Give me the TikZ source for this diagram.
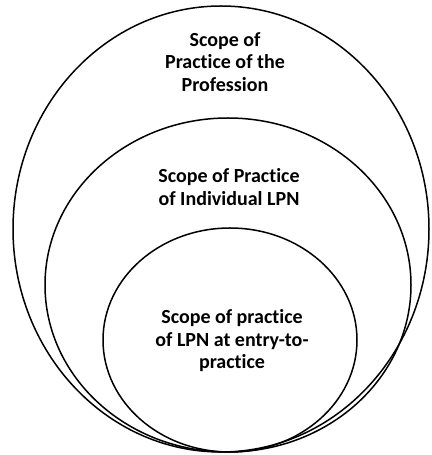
\documentclass[tikz,border=0pt]{standalone}
\usepackage{fontspec}
\setmainfont{Carlito}[Ligatures={NoCommon}]
\tikzset{
  ring/.style={draw=black, line width=1.5pt},
  lbl/.style={align=center, font=\fontsize{20}{22.5}\selectfont\bfseries, text=black, inner sep=0pt}
}
\begin{document}
\begin{tikzpicture}[x=1pt,y=1pt]
\useasboundingbox (0,0) rectangle (431,455);
\draw[ring] (221,226) ellipse [x radius=208, y radius=223];
\draw[ring] (228,170) ellipse [x radius=183, y radius=167];
\draw[ring] (230,115) ellipse [x radius=127, y radius=112];
\node[lbl] (t1) at (225,393) {Scope of\\Practice of the\\Profession};
\node[lbl] (t2) at (229,268) {Scope of Practice\\of Individual LPN};
\node[lbl] (t3) at (232,114) {Scope of practice\\of LPN at entry-to-\\practice};
\end{tikzpicture}
\end{document}
